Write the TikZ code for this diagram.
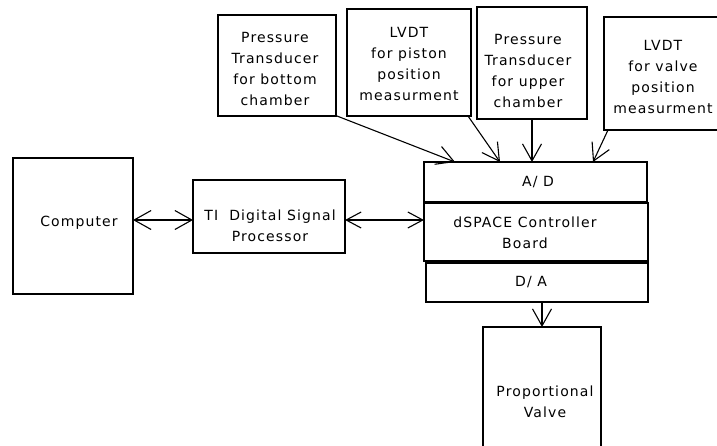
\documentclass[tikz,border=0pt]{standalone}
\usepackage{fontspec}
\setmainfont{DejaVu Sans}[LetterSpace=8]
\usetikzlibrary{arrows.meta}
\begin{document}
\begin{tikzpicture}[x=1pt,y=-1pt,
  box/.style={draw=black,line width=1.2pt,fill=white,inner sep=0pt,outer sep=0pt},
  txt/.style={inner sep=0pt,align=center,font=\fontsize{14}{21}\selectfont,text=black},
  barb/.style={line width=1.1pt,-{Straight Barb[length=17pt,width=19pt,line width=1.1pt]}},
  dbl/.style={line width=1.1pt,{Straight Barb[length=17pt,width=19pt,line width=1.1pt]}-{Straight Barb[length=17pt,width=19pt,line width=1.1pt]}},
  dbls/.style={line width=1.1pt,{Straight Barb[length=15pt,width=16pt,line width=1.1pt]}-{Straight Barb[length=15pt,width=16pt,line width=1.1pt]}}]
\useasboundingbox (0,0) rectangle (717,445);
\clip (0,0) rectangle (717,445);
% boxes
\node[box,minimum width=120pt,minimum height=136pt] (comp) at (73,226) {};
\node[box,minimum width=152pt,minimum height=73pt] (ti) at (269,216.5) {};
\node[box,minimum width=223pt,minimum height=40pt] (ad) at (535.5,182) {};
\node[box,minimum width=224pt,minimum height=58pt] (ds) at (536,232) {};
\node[box,minimum width=222pt,minimum height=39pt] (da) at (537,282.5) {};
\node[box,minimum width=118pt,minimum height=133pt] (pv) at (542,393.5) {};
\node[box,minimum width=118pt,minimum height=101pt] (p1) at (277,65.5) {};
\node[box,minimum width=124pt,minimum height=107pt] (l1) at (409,62.5) {};
\node[box,minimum width=110pt,minimum height=112pt] (p2) at (532,63) {};
\node[box,minimum width=118pt,minimum height=113pt] (l2) at (663,73.5) {};
% texts
\node[txt] (compT) at (79,223) {Computer};
\node[txt] (tiT) at (270,226) {TI\ \ Digital Signal\\Processor};
\node[txt] (adT) at (538,182) {A/ D};
\node[txt] (dsT) at (525,233) {dSPACE Controller\\Board};
\node[txt] (daT) at (531,282) {D/ A};
\node[txt] (pvT) at (545,401.5) {Proportional\\Valve};
\node[txt] (p1T) at (275,69) {Pressure\\Transducer\\for bottom\\chamber};
\node[txt] (l1T) at (409,63.5) {LVDT\\for piston\\position\\measurment};
\node[txt] (p2T) at (528,71) {Pressure\\Transducer\\for upper\\chamber};
\node[txt] (l2T) at (663,76.5) {LVDT\\for valve\\position\\measurment};
% connectors
\draw[dbl] ([yshift=6pt]comp.east) -- ([yshift=-3.5pt]ti.west);
\draw[dbls] ([yshift=-3.5pt]ti.east) -- ([yshift=12pt]ds.west);
\draw[barb] ([xshift=1pt]p1.south east) -- ([xshift=-80.5pt]ad.north);
\draw[barb] ([xshift=-3pt]l1.south east) -- ([xshift=-35.5pt]ad.north);
\draw[barb] (p2.south) -- (p2.south |- ad.north);
\draw[barb] ([xshift=4pt]l2.south west) -- ([xshift=57.5pt]ad.north);
\draw[barb] (pv.north |- da.south) -- (pv.north);
\end{tikzpicture}
\end{document}
